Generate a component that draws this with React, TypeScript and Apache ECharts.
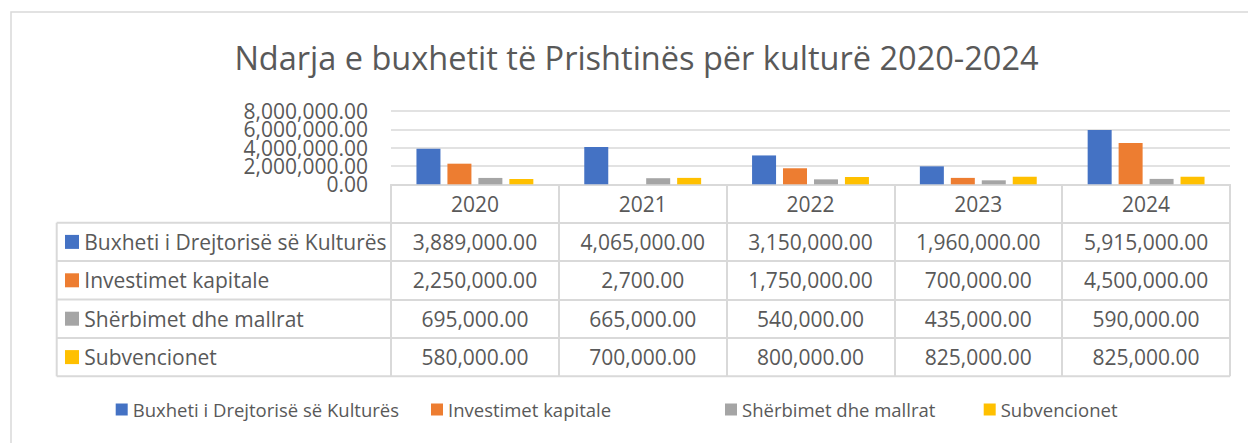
import React, { useEffect, useRef } from "react";
import * as echarts from "echarts";

const TITLE = "Ndarja e buxhetit të Prishtinës për kulturë 2020-2024";
const years = ["2020", "2021", "2022", "2023", "2024"];
const seriesNames = [
  "Buxheti i Drejtorisë së Kulturës",
  "Investimet kapitale",
  "Shërbimet dhe mallrat",
  "Subvencionet",
];
const buxheti = [3889000, 4065000, 3150000, 1960000, 5915000];
const investimet = [2250000, 2700, 1750000, 700000, 4500000];
const sherbimet = [695000, 665000, 540000, 435000, 590000];
const subvencionet = [580000, 700000, 800000, 825000, 825000];
const seriesValues = [buxheti, investimet, sherbimet, subvencionet];
const colors = ["#4472C4", "#ED7D31", "#A5A5A5", "#FFC000"];
const yTickValues = [0, 2000000, 4000000, 6000000, 8000000];

const FONT = "'Open Sans', sans-serif";
const TXT = "#595959";
const LINE = "#d9d9d9";

const fmt = (v: number) =>
  Number(v).toLocaleString("en-US", { minimumFractionDigits: 2, maximumFractionDigits: 2 });

export default function App() {
  const ref = useRef<HTMLDivElement>(null);
  useEffect(() => {
    if (!ref.current) return;
    const chart = echarts.init(ref.current, null, { renderer: "svg" });
    const W = 1248;
    const H = 443;
    const gridLeft = 391;
    const gridRight = 1230;
    const gridTop = 111;
    const gridBottom = 184.3;
    const rowH = 38.4;
    const tableLeft = 56.7;

    const xAxes: any[] = [];
    for (let i = 0; i <= 4; i++) {
      xAxes.push({
        type: "category",
        data: years,
        position: "bottom",
        offset: i * rowH,
        axisLine: { show: true, lineStyle: { color: LINE, width: 2 } },
        axisTick: { show: true, alignWithLabel: false, length: rowH, interval: 0, lineStyle: { color: LINE, width: 2 } },
        axisLabel: {
          show: true,
          interval: 0,
          margin: rowH / 2,
          verticalAlign: "middle",
          fontFamily: FONT,
          fontSize: 21,
          color: TXT,
          formatter:
            i === 0
              ? (v: string) => v
              : (_v: string, idx: number) => fmt(seriesValues[i - 1][idx]),
        },
        splitLine: { show: false },
      });
    }

    const graphics: any[] = [];
    graphics.push({
      type: "rect",
      shape: { x: 11, y: 12, width: 1400, height: 600 },
      style: { fill: "none", stroke: LINE, lineWidth: 1.5 },
      z: -10,
    });
    graphics.push({
      type: "text",
      x: 636.5,
      y: 57,
      style: {
        text: TITLE,
        font: `32.5px ${FONT}`,
        fill: TXT,
        textAlign: "center",
        textVerticalAlign: "middle",
      },
    });
    const tableTop = gridBottom + rowH;
    for (let r = 0; r <= 4; r++) {
      const y = tableTop + r * rowH;
      graphics.push({
        type: "line",
        shape: { x1: tableLeft, y1: y, x2: r === 4 ? gridRight : gridLeft, y2: y },
        style: { stroke: LINE, lineWidth: 2 },
      });
    }
    graphics.push({
      type: "line",
      shape: { x1: tableLeft, y1: tableTop, x2: tableLeft, y2: tableTop + 4 * rowH },
      style: { stroke: LINE, lineWidth: 2 },
    });
    seriesNames.forEach((name, r) => {
      const cy = tableTop + r * rowH + rowH / 2;
      graphics.push({
        type: "rect",
        shape: { x: 65, y: cy - 7, width: 14, height: 14 },
        style: { fill: colors[r] },
      });
      graphics.push({
        type: "text",
        x: 84.3,
        y: cy,
        style: { text: name, font: `21px ${FONT}`, fill: TXT, textVerticalAlign: "middle" },
      });
    });

    const legendLefts = [115.7, 431, 725, 983.7];
    const legends = seriesNames.map((name, i) => ({
      data: [name],
      left: legendLefts[i],
      top: 400,
      padding: 0,
      icon: "rect",
      itemWidth: 12,
      itemHeight: 12,
      selectedMode: false,
      textStyle: { fontFamily: FONT, fontSize: 18.5, color: TXT },
    }));

    chart.setOption({
      animation: false,
      grid: { left: gridLeft, right: W - gridRight, top: gridTop, bottom: H - gridBottom, containLabel: false },
      legend: legends,
      xAxis: xAxes,
      yAxis: {
        type: "value",
        min: yTickValues[0],
        max: yTickValues[yTickValues.length - 1],
        interval: yTickValues[1] - yTickValues[0],
        axisLine: { show: false },
        axisTick: { show: false },
        axisLabel: { show: false },
        splitLine: { lineStyle: { color: LINE, width: 1.5 } },
      },
      series: seriesNames.map((name, i) => ({
        name,
        type: "bar",
        xAxisIndex: 0,
        data: seriesValues[i],
        barWidth: 24,
        barGap: "29%",
        itemStyle: { color: colors[i] },
      })),
      graphic: graphics,
    });

    // y-axis tick labels placed through the axis scale
    const yLabels = yTickValues.map((v) => {
      const py = chart.convertToPixel({ yAxisIndex: 0 }, v) as number;
      return {
        type: "text",
        x: gridLeft - 23,
        y: py,
        style: {
          text: fmt(v),
          font: `21px ${FONT}`,
          lineHeight: 17,
          fill: TXT,
          textAlign: "right",
          textVerticalAlign: "middle",
        },
      };
    });
    chart.setOption({ graphic: graphics.concat(yLabels) });
    return () => chart.dispose();
  }, []);
  return <div ref={ref} style={{ position: "absolute", left: 0, top: 0, width: 1248, height: 443 }} />;
}
